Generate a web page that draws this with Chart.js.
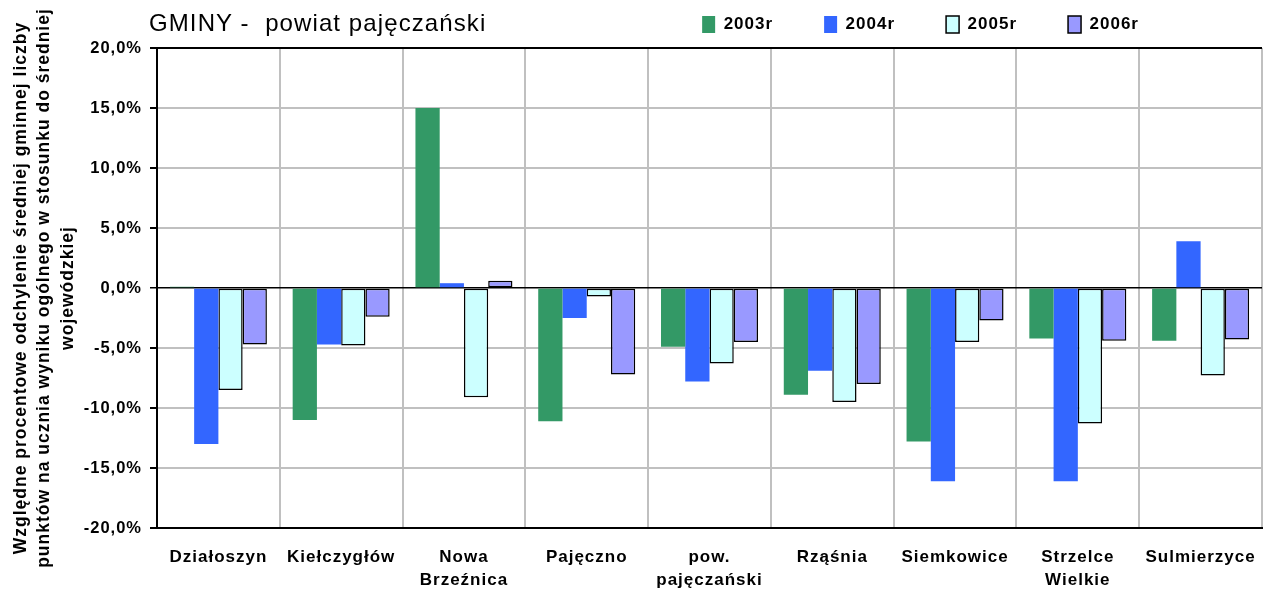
<!DOCTYPE html>
<html lang="pl">
<head>
  <meta charset="UTF-8" />
  <title>GMINY - powiat pajęczański</title>
  <script src="https://cdn.jsdelivr.net/npm/chart.js"></script>
  <style>
    body {
      margin: 0;
      background: #fff;
    }
    .wrap {
      position: relative;
      width: 1263px;
      height: 595px;
    }
    .title {
      position: absolute;
      left: 149px;
      top: 9px;
      font-family: 'Liberation Sans', Arial, sans-serif;
      font-size: 24px;
      letter-spacing: 1.1px;
      color: #000;
      white-space: pre;
    }
  </style>
</head>
<body>
  <div class="wrap">
    <div class="title">GMINY -  powiat pajęczański</div>
    <canvas id="chart" width="1263" height="595"></canvas>
  </div>

  <script>
    const gminy = ['Działoszyn', 'Kiełczygłów', ['Nowa', 'Brzeźnica'], 'Pajęczno',
      ['pow.', 'pajęczański'], 'Rząśnia', 'Siemkowice', ['Strzelce', 'Wielkie'], 'Sulmierzyce'];
    const lata = ['2003r', '2004r', '2005r', '2006r'];
    const v2003 = [0.1, -11.0, 15.0, -11.1, -4.9, -8.9, -12.8, -4.2, -4.4];
    const v2004 = [-13.0, -4.7, 0.4, -2.5, -7.8, -6.9, -16.1, -16.1, 3.9];
    const v2005 = [-8.5, -4.8, -9.1, -0.7, -6.3, -9.5, -4.5, -11.3, -7.3];
    const v2006 = [-4.7, -2.4, 0.6, -7.2, -4.5, -8.0, -2.7, -4.4, -4.3];
    const yTicks = [-20, -15, -10, -5, 0, 5, 10, 15, 20];

    const FONT = "'Liberation Sans', Arial, sans-serif";
    Chart.defaults.color = '#000';
    Chart.defaults.font.family = FONT;

    // Excel-like wide letters
    const spacing = {
      id: 'spacing',
      beforeUpdate(chart) { chart.ctx.letterSpacing = '1px'; },
      beforeDraw(chart) { chart.ctx.letterSpacing = '1px'; }
    };

    // lift the legend a little above the plot area
    const legendUp = {
      id: 'legendUp',
      afterLayout(chart) {
        chart.legend.top -= 5;
        chart.legend.bottom -= 5;
      }
    };

    const NB = '\u00a0';

    new Chart(document.getElementById('chart'), {
      type: 'bar',
      plugins: [spacing, legendUp],
      data: {
        labels: gminy,
        datasets: [
          { label: lata[0], data: v2003, backgroundColor: '#339966', borderWidth: 0 },
          { label: lata[1], data: v2004, backgroundColor: '#3366ff', borderWidth: 0 },
          { label: lata[2], data: v2005, backgroundColor: '#ccffff', borderColor: '#000', borderWidth: 1.5, borderSkipped: false },
          { label: lata[3], data: v2006, backgroundColor: '#9999ff', borderColor: '#000', borderWidth: 1.5, borderSkipped: false }
        ]
      },
      options: {
        responsive: false,
        animation: false,
        categoryPercentage: 0.79,
        barPercentage: 1.0,
        layout: { padding: { top: 1, right: 1, bottom: 0, left: 0 } },
        plugins: {
          tooltip: { enabled: false },
          legend: {
            position: 'top',
            align: 'end',
            labels: {
              boxWidth: 13,
              boxHeight: 17,
              padding: 20,
              font: { size: 17, weight: 'bold' },
              generateLabels(chart) {
                const items = Chart.defaults.plugins.legend.labels.generateLabels(chart);
                items.forEach((it, i) => {
                  // spacing between entries, plus empty room after the last one
                  it.text = it.text + (i === items.length - 1 ? NB.repeat(18) : NB.repeat(5) + '\u200a');
                });
                return items;
              }
            }
          }
        },
        scales: {
          x: {
            grid: { color: '#c0c0c0', lineWidth: 2, drawTicks: false },
            border: { color: '#000', width: 2 },
            ticks: { padding: 18, maxRotation: 0, autoSkip: false, font: { size: 17, weight: 'bold', lineHeight: 1.35 } },
            afterFit(scale) {
              scale.height = 67;
              scale.paddingLeft = 0;
              scale.paddingRight = 0;
            }
          },
          y: {
            min: -20,
            max: 20,
            afterBuildTicks(scale) { scale.ticks = yTicks.map(v => ({ value: v })); },
            grid: {
              color: ctx => (ctx.tick && [0, 20, -20].includes(ctx.tick.value)) ? '#000' : '#c0c0c0',
              lineWidth: ctx => (ctx.tick && ctx.tick.value === 0) ? 1.5 : 2,
              tickColor: '#000',
              tickLength: 7
            },
            border: { color: '#000', width: 2 },
            ticks: {
              padding: 8,
              font: { size: 16.5, weight: 'bold' },
              callback: v => v.toFixed(1).replace('.', ',') + '%'
            },
            title: {
              display: true,
              text: ['Względne procentowe odchylenie średniej gminnej liczby',
                'punktów na ucznia wyniku ogólnego w stosunku do średniej',
                'wojewódzkiej'],
              font: { size: 17.5, weight: 'bold', lineHeight: 1.35 },
              padding: { top: 9, bottom: 0 }
            },
            afterFit(scale) { scale.width = 157; }
          }
        }
      }
    });
  </script>
</body>
</html>
